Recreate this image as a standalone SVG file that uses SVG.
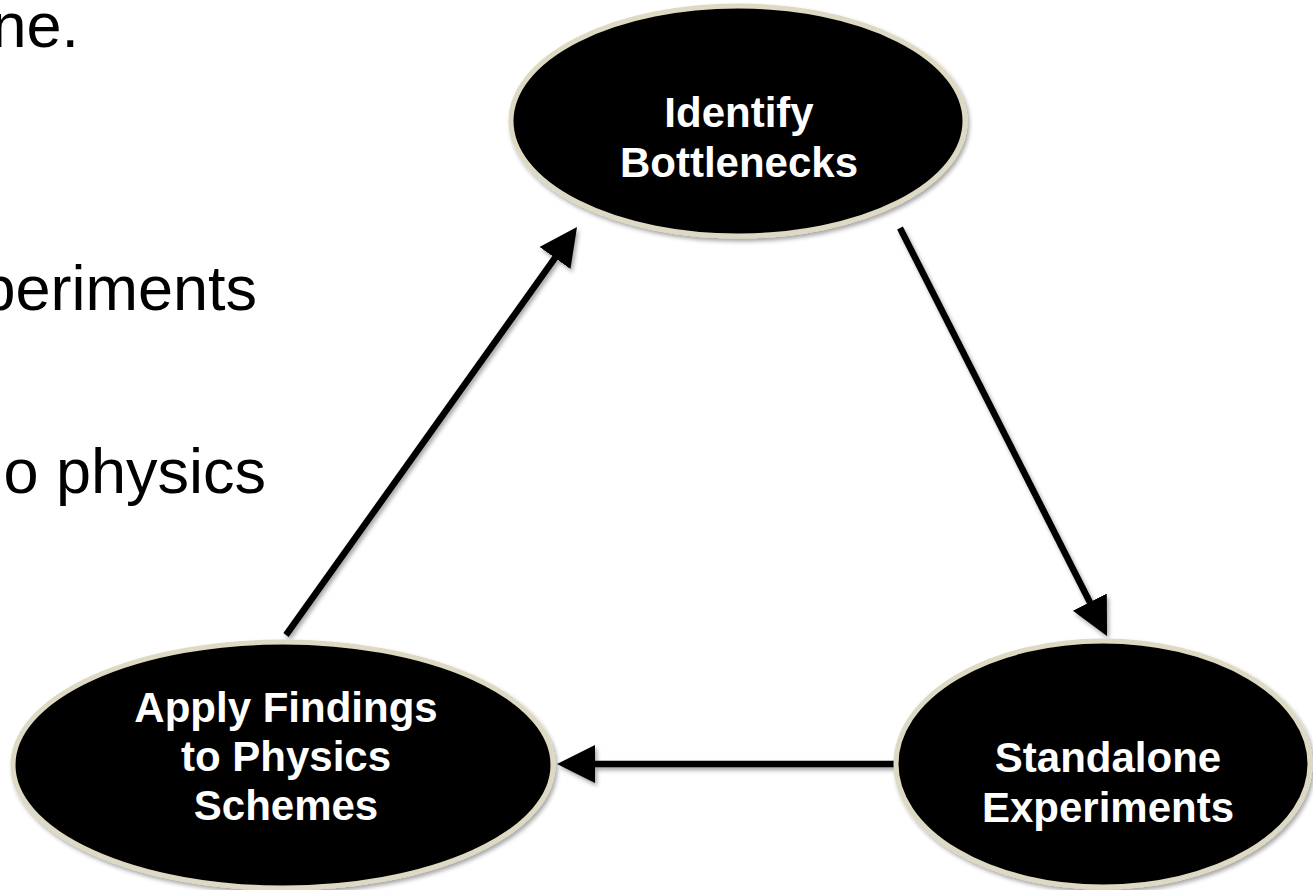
<svg xmlns="http://www.w3.org/2000/svg" width="1313" height="890" viewBox="0 0 1313 890">
<style>
.bg{fill:#ffffff}
.node ellipse{fill:#000000;stroke:#ddd9c3;stroke-width:5}
.lbl{font-family:"Liberation Sans",Arial,sans-serif;font-weight:bold;font-size:42px;fill:#ffffff;text-anchor:middle}
.body{font-family:"Liberation Sans",Arial,sans-serif;font-size:63px;fill:#000000;text-anchor:end}
.conn line{stroke:#000000;stroke-width:6.5;marker-end:url(#ah)}
</style>
<defs>
<filter id="sh" x="-20%" y="-20%" width="140%" height="140%">
<feDropShadow dx="2" dy="3" stdDeviation="2" flood-color="#000" flood-opacity="0.35"/>
</filter>
<marker id="ah" markerUnits="userSpaceOnUse" markerWidth="40" markerHeight="40" refX="18" refY="19" orient="auto">
<path d="M0,0 L38,19 L0,38 Z" fill="#000000"/>
</marker>
</defs>
<rect class="bg" x="0" y="0" width="1313" height="890"/>
<g id="bodytext">
<text class="body" x="79" y="47">ne.</text>
<text class="body" x="257" y="310">periments</text>
<text class="body" x="266" y="493">o physics</text>
</g>
<g id="connectors" class="conn" filter="url(#sh)">
<line x1="286" y1="635" x2="565.4" y2="243.3"/>
<line x1="900" y1="228" x2="1098" y2="618.2"/>
<line x1="895" y1="764" x2="577" y2="764"/>
</g>
<g id="node-identify" class="node">
<ellipse cx="738" cy="121" rx="227" ry="115" filter="url(#sh)"/>
<text class="lbl" x="739" y="127">Identify</text>
<text class="lbl" x="739" y="177">Bottlenecks</text>
</g>
<g id="node-apply" class="node">
<ellipse cx="283" cy="765" rx="270" ry="123" filter="url(#sh)"/>
<text class="lbl" x="286" y="722">Apply Findings</text>
<text class="lbl" x="286" y="771">to Physics</text>
<text class="lbl" x="286" y="820">Schemes</text>
</g>
<g id="node-standalone" class="node">
<ellipse cx="1103" cy="764" rx="207" ry="123" filter="url(#sh)"/>
<text class="lbl" x="1108" y="772">Standalone</text>
<text class="lbl" x="1108" y="822">Experiments</text>
</g>
</svg>
